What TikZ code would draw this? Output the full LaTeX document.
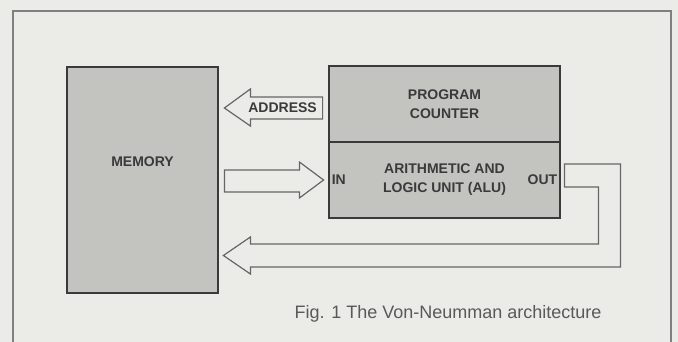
\documentclass[tikz,border=0pt]{standalone}
\usepackage{fontspec}
\setmainfont{Liberation Sans}
\usepackage{xcolor}
\usepackage{tikz}
\usetikzlibrary{calc}
\definecolor{paper}{HTML}{EBEBE8}
\definecolor{boxgray}{HTML}{C3C3C0}
\definecolor{inkgray}{HTML}{3A3A3A}
\tikzstyle{unit} = [rectangle, draw=inkgray, line width=2.8pt, fill=boxgray,
    text=inkgray, font=\fontsize{14}{19}\selectfont\bfseries, align=center]
\tikzstyle{label} = [text=inkgray, font=\fontsize{14}{19}\selectfont\bfseries, inner sep=0pt]
\tikzstyle{fat} = [draw=black!60, line width=1.2pt, fill=paper, line join=miter]

\begin{document}
\begin{tikzpicture}[x=1pt, y=-1pt]
    % page and frame
    \fill[paper] (0,0) rectangle (678,342);
    \useasboundingbox (0,0) rectangle (678,342);
    \draw[black!50, line width=1.6pt] (13,348) -- (13,11) -- (671,11) -- (671,348);

    % Place nodes
    \node [unit, minimum width=151, minimum height=226] (memory) at (142.5,180) {};
    \node [label] (memtext) at ($(memory)+(0,-18)$) {MEMORY};
    \node [unit, minimum width=231, minimum height=76] (pc) at (444.5,104) {PROGRAM\\COUNTER};
    \node [unit, minimum width=231, minimum height=76] (alu) at (444.5,180) {ARITHMETIC AND\\LOGIC UNIT (ALU)};
    \node [label, anchor=west] (in) at ($(alu.west)+(4,0)$) {IN};
    \node [label, anchor=east] (out) at ($(alu.east)+(-4,0)$) {OUT};

    % block arrows
    \draw [fat] ($(pc.west)+(-5,-7)$) -- ($(memory.east)+(31,-83)$) -- ($(memory.east)+(31,-91)$)
        -- ($(memory.east)+(5,-72)$) -- ($(memory.east)+(31,-54)$) -- ($(memory.east)+(31,-61)$)
        -- ($(pc.west)+(-5,15)$) -- cycle;
    \node [label] (address) at ($(pc.west)+(-45,4)$) {ADDRESS};

    \draw [fat] ($(memory.east)+(5,-10)$) -- ($(memory.east)+(80,-10)$) -- ($(memory.east)+(80,-18)$)
        -- ($(alu.west)+(-4,0)$) -- ($(memory.east)+(80,18)$) -- ($(memory.east)+(80,12)$)
        -- ($(memory.east)+(5,12)$) -- cycle;

    \draw [fat] ($(alu.east)+(3,-16)$) -- ($(alu.east)+(59,-16)$) -- ($(alu.east)+(59,87)$)
        -- ($(memory.east)+(31,87)$) -- ($(memory.east)+(31,94)$) -- ($(memory.east)+(4,75.5)$)
        -- ($(memory.east)+(31,57)$) -- ($(memory.east)+(31,64)$) -- ($(alu.east)+(37,64)$)
        -- ($(alu.east)+(37,7)$) -- ($(alu.east)+(3,7)$) -- cycle;

    % caption
    \node [text=black!65, font=\fontsize{18}{21}\selectfont, anchor=base] (caption) at (448,318)
        {Fig. 1 The Von-Neumman architecture};
\end{tikzpicture}
\end{document}
